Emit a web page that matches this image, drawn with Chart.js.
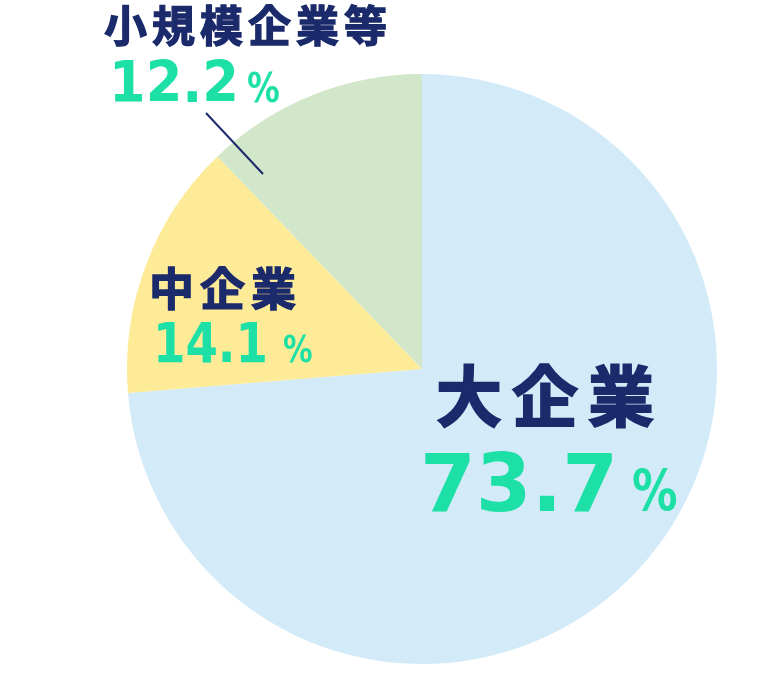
<!DOCTYPE html>
<html>
<head>
<meta charset="utf-8">
<script src="https://cdn.jsdelivr.net/npm/chart.js@4.4.1/dist/chart.umd.min.js"></script>
<style>
  html, body { margin: 0; padding: 0; background: #fff; }
  #pie { display: block; }
</style>
</head>
<body>
<canvas id="pie" width="778" height="682"></canvas>
<script>
const labels = ['大企業', '中企業', '小規模企業等']
const shares = [73.7, 14.1, 12.2]
const sliceColors = ['#d3ebf9', '#feeb97', '#d2e7c9']

const NAVY = '#1b2a6b'
const TEAL = '#1de0a6'

// label placement: name text, number text (squeezed to numW), and the small %
const labelLayout = [
  { x: 436, nameY: 421, name: 66, nameGap: 10, numX: 420, numY: 511, num: 80, numW: 198, pctX: 632, pct: 57 },
  { x: 149, nameY: 306, name: 45, nameGap: 6, numX: 153, numY: 362, num: 55, numW: 115, pctX: 283, pct: 37 },
  { x: 104, nameY: 42, name: 43, nameGap: 5, numX: 109, numY: 102, num: 57, numW: 130, pctX: 247, pct: 41 }
]

function squeezedText (c, txt, x, y, w) {
  const natural = c.measureText(txt).width
  const sx = w / natural
  c.save()
  c.translate(x, y)
  c.scale(sx, 1)
  c.fillText(txt, 0, 0)
  c.restore()
}

const labelPlugin = {
  id: 'pieLabels',
  afterDraw (chart) {
    const c = chart.ctx
    c.save()
    // leader line for the small slice
    c.strokeStyle = NAVY
    c.lineWidth = 2
    c.beginPath()
    c.moveTo(206, 113)
    c.lineTo(263, 174)
    c.stroke()

    labels.forEach((name, i) => {
      const l = labelLayout[i]
      c.textAlign = 'left'
      c.textBaseline = 'alphabetic'
      c.fillStyle = NAVY
      c.strokeStyle = NAVY
      c.lineJoin = 'miter'
      c.lineWidth = l.name * 0.03
      c.font = 'bold ' + l.name + "px 'Noto Sans CJK JP'"
      c.letterSpacing = l.nameGap + 'px'
      c.fillText(name, l.x, l.nameY)
      c.strokeText(name, l.x, l.nameY)
      c.letterSpacing = '0px'

      c.fillStyle = TEAL
      c.font = 'bold ' + l.num + "px 'DejaVu Sans'"
      squeezedText(c, shares[i].toFixed(1), l.numX, l.numY, l.numW)
      c.font = 'bold ' + l.pct + "px 'DejaVu Sans'"
      squeezedText(c, '%', l.pctX, l.numY, l.pct * 0.8)
    })
    c.restore()
  }
}

new Chart(document.getElementById('pie').getContext('2d'), {
  type: 'pie',
  data: {
    labels: labels,
    datasets: [
      {
        data: shares,
        backgroundColor: sliceColors,
        borderWidth: 0
      }
    ]
  },
  options: {
    responsive: false,
    animation: false,
    layout: {
      padding: { left: 127, right: 61, top: 74, bottom: 18 }
    },
    plugins: {
      legend: { display: false },
      tooltip: { enabled: false }
    }
  },
  plugins: [labelPlugin]
})
</script>
</body>
</html>
